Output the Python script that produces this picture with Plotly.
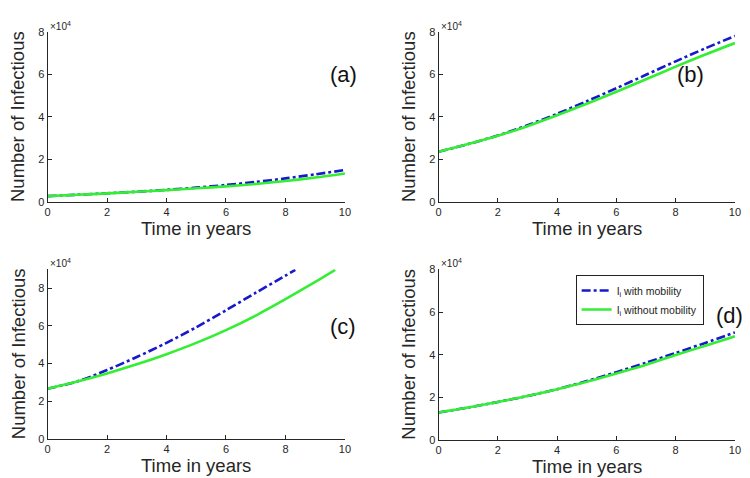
import plotly.graph_objects as go

years = [0, 1, 2, 3, 4, 5, 6, 7, 8, 9, 10]

# Panel (a)
a_with = [2900, 3500, 4200, 4950, 5800, 6850, 8100, 9550, 11200, 13100, 15100]
a_without = [2900, 3500, 4150, 4900, 5700, 6550, 7450, 8600, 9950, 11600, 13500]

# Panel (b)
b_with = [23700, 27300, 31300, 36100, 41500, 47400, 53500, 59800, 66100, 72200, 78000]
b_without = [23700, 27300, 31200, 35700, 40800, 46200, 51800, 57700, 63600, 69300, 74700]

# Panel (c)
c_with_x = [0, 1, 2, 3, 4, 5, 6, 7, 8, 8.33]
c_with = [26700, 30500, 36600, 43500, 51000, 59300, 68300, 77600, 86700, 89700]
c_without_x = [0, 1, 2, 3, 4, 5, 6, 7, 8, 9, 9.67]
c_without = [26700, 30500, 34800, 39600, 45000, 51000, 57800, 65500, 74200, 83300, 89700]

# Panel (d)
d_with = [12900, 15200, 17800, 20600, 23800, 27600, 31800, 36200, 40800, 45500, 50400]
d_without = [12900, 15200, 17800, 20600, 23800, 27300, 31200, 35300, 39800, 44200, 48600]

yticks = [0, 20000, 40000, 60000, 80000]
ytick_text = ["0", "2", "4", "6", "8"]
xticks = [0, 2, 4, 6, 8, 10]

BLUE = "#1818cc"
GREEN = "#33ee33"
FONT = "Liberation Sans, Arial, Helvetica, sans-serif"
AXC = "#262626"

fig = go.Figure()

panels = [
    ("a", "x", "y", [0.0493, 0.4507], [0.596, 0.962], [0, 80000]),
    ("b", "x2", "y2", [0.577, 0.977], [0.596, 0.962], [0, 80000]),
    ("c", "x3", "y3", [0.0493, 0.4507], [0.088, 0.452], [0, 90000]),
    ("d", "x4", "y4", [0.577, 0.977], [0.086, 0.452], [0, 80000]),
]

series = {
    "a": ((years, a_with), (years, a_without)),
    "b": ((years, b_with), (years, b_without)),
    "c": ((c_with_x, c_with), (c_without_x, c_without)),
    "d": ((years, d_with), (years, d_without)),
}

label_pos = {"a": (9.95, 60000), "b": (8.5, 60000), "c": (9.95, 59500), "d": (9.8, 58500)}

layout = dict(
    width=750, height=478,
    margin=dict(l=0, r=0, t=0, b=0),
    paper_bgcolor="white", plot_bgcolor="white",
    font=dict(family=FONT, color=AXC),
    showlegend=True,
    legend=dict(
        x=0.762, y=0.44, xanchor="left", yanchor="top",
        bordercolor="#222222", borderwidth=1, bgcolor="white",
        font=dict(size=10.5, family=FONT, color="#222222"),
        tracegroupgap=0, itemwidth=30,
    ),
)

annotations = []
for name, xa, ya, xd, yd, yr in panels:
    (xw, yw), (xo, yo) = series[name]
    show = name == "d"
    fig.add_trace(go.Scatter(
        x=xw, y=yw, mode="lines", xaxis=xa, yaxis=ya,
        line=dict(color=BLUE, width=2.6, dash="dashdot", shape="spline", smoothing=0.8),
        name="I<sub>i</sub> with mobility", showlegend=show,
    ))
    fig.add_trace(go.Scatter(
        x=xo, y=yo, mode="lines", xaxis=xa, yaxis=ya,
        line=dict(color=GREEN, width=2.6, shape="spline", smoothing=0.8),
        name="I<sub>i</sub> without mobility", showlegend=show,
    ))
    xkey = "xaxis" + xa[1:]
    ykey = "yaxis" + ya[1:]
    layout[xkey] = dict(
        domain=xd, range=[0, 10], anchor=ya, tickvals=xticks,
        ticks="inside", ticklen=4, tickcolor=AXC, showline=True,
        linecolor=AXC, linewidth=1, showgrid=False, zeroline=False,
        tickfont=dict(size=11, color=AXC), fixedrange=True,
    )
    layout[ykey] = dict(
        domain=yd, range=yr, anchor=xa, tickvals=yticks, ticktext=ytick_text,
        ticks="inside", ticklen=4, tickcolor=AXC, showline=True,
        linecolor=AXC, linewidth=1, showgrid=False, zeroline=False,
        tickfont=dict(size=11, color=AXC), fixedrange=True,
    )
    xref_d = xa + " domain"
    yref_d = ya + " domain"
    annotations.append(dict(
        text="\u00d710<sup>4</sup>", x=0, y=1, xref=xref_d, yref=yref_d,
        xanchor="left", yanchor="bottom", showarrow=False, xshift=0, yshift=-2,
        font=dict(size=10, color=AXC),
    ))
    annotations.append(dict(
        text="Time in years", x=0.5, y=0, xref=xref_d, yref=yref_d,
        xanchor="center", yanchor="top", showarrow=False, yshift=-14,
        font=dict(size=18.5, color=AXC),
    ))
    annotations.append(dict(
        text="Number of Infectious", x=0, y=0.5, xref=xref_d, yref=yref_d,
        xanchor="right", yanchor="middle", showarrow=False, xshift=-17,
        textangle=-90, font=dict(size=18.5, color=AXC),
    ))
    lx, ly = label_pos[name]
    annotations.append(dict(
        text="(" + name + ")", x=lx, y=ly, xref=xa, yref=ya,
        xanchor="center", yanchor="middle", showarrow=False,
        font=dict(size=22, color="#111111"),
    ))

layout["annotations"] = annotations
fig.update_layout(**layout)
fig.write_html("out.html")
